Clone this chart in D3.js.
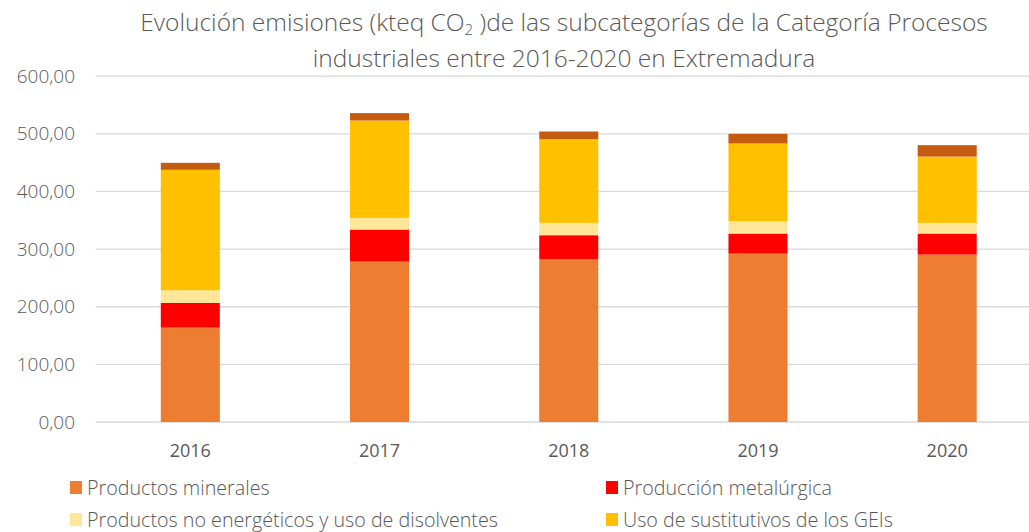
<!DOCTYPE html>
<html>
<head>
<meta charset="utf-8">
<script src="https://cdn.jsdelivr.net/npm/d3@7"></script>
<style>
  html, body { margin: 0; padding: 0; background: #fff; }
  svg { display: block; }
</style>
</head>
<body>
<svg id="chart" width="1029" height="532"></svg>
<script>
// Emisiones (kteq CO2) por subcategoría, 2016-2020
const years = ["2016", "2017", "2018", "2019", "2020"];
const seriesNames = [
  "Productos minerales",
  "Producción metalúrgica",
  "Productos no energéticos y uso de disolventes",
  "Uso de sustitutivos de los GEIs",
  "Otros"
];
const productosMinerales   = [163.7, 278.3, 282.5, 292.2, 290.5];
const produccionMetalurgica = [42.9, 55.6, 41.6, 34.7, 36.4];
const productosNoEnergeticos = [22.0, 20.3, 21.4, 21.5, 18.6];
const usoSustitutivos      = [209.0, 168.9, 145.3, 134.8, 115.1];
const otros                = [12.1, 12.8, 13.2, 16.8, 19.7];
const yTicks = [0, 100, 200, 300, 400, 500, 600];
const colors = ["#ED7D31", "#FF0000", "#FFE699", "#FFC000", "#C55A11"];

const rows = years.map((yr, i) => ({
  year: yr,
  s0: productosMinerales[i],
  s1: produccionMetalurgica[i],
  s2: productosNoEnergeticos[i],
  s3: usoSustitutivos[i],
  s4: otros[i]
}));
const keys = ["s0", "s1", "s2", "s3", "s4"];
const stacked = d3.stack().keys(keys)(rows);

const svg = d3.select("#chart");
const plotLeft = 95.7, plotRight = 1041.8, plotTop = 76.2, plotBottom = 422;

const x = d3.scaleBand().domain(years).range([plotLeft, plotRight]).paddingInner(0.688).paddingOuter(0.344);
const y = d3.scaleLinear().domain([0, 600]).range([plotBottom, plotTop]);

// horizontal gridlines
svg.append("g")
  .selectAll("line")
  .data(yTicks)
  .join("line")
  .attr("x1", plotLeft).attr("x2", plotRight)
  .attr("y1", d => y(d)).attr("y2", d => y(d))
  .attr("stroke", "#d9d9d9").attr("stroke-width", 1.3);

// y tick labels
const fmt = d => d3.format(".2f")(d).replace(".", ",");
svg.append("g")
  .selectAll("text")
  .data(yTicks)
  .join("text")
  .attr("x", 75).attr("y", d => y(d))
  .attr("dy", "0.35em")
  .attr("text-anchor", "end")
  .attr("font-family", "'Open Sans', sans-serif")
  .attr("font-weight", 300)
  .attr("font-size", 19)
  .attr("fill", "#595959")
  .text(fmt);

// stacked bars
svg.append("g")
  .selectAll("g")
  .data(stacked)
  .join("g")
  .attr("fill", (d, i) => colors[i])
  .selectAll("rect")
  .data(d => d)
  .join("rect")
  .attr("x", d => x(d.data.year))
  .attr("width", x.bandwidth())
  .attr("y", d => y(d[1]))
  .attr("height", d => y(d[0]) - y(d[1]));

// x labels
svg.append("g")
  .selectAll("text")
  .data(years)
  .join("text")
  .attr("x", d => x(d) + x.bandwidth() / 2)
  .attr("y", 457)
  .attr("text-anchor", "middle")
  .attr("font-family", "'Open Sans', sans-serif")
  .attr("font-weight", 500)
  .attr("font-size", 18)
  .attr("fill", "#595959")
  .text(d => d);

// title (two lines, subscript in CO2)
const title = svg.append("text")
  .attr("x", 564).attr("y", 31)
  .attr("text-anchor", "middle")
  .attr("font-family", "'Open Sans', sans-serif")
  .attr("font-weight", 300)
  .attr("font-size", 24.5)
  .attr("fill", "#595959");
title.append("tspan").text("Evolución emisiones (kteq CO");
title.append("tspan").attr("font-size", 15).attr("dy", 4).text("2");
title.append("tspan").attr("dy", -4).text(" )de las subcategorías de la Categoría Procesos");
svg.append("text")
  .attr("x", 564).attr("y", 67)
  .attr("text-anchor", "middle")
  .attr("font-family", "'Open Sans', sans-serif")
  .attr("font-weight", 300)
  .attr("font-size", 24.5)
  .attr("fill", "#595959")
  .text("industriales entre 2016-2020 en Extremadura");

// legend
const legendItems = [
  { name: seriesNames[0], color: colors[0], lx: 70, ly: 488 },
  { name: seriesNames[1], color: colors[1], lx: 606, ly: 488 },
  { name: seriesNames[2], color: colors[2], lx: 70, ly: 520 },
  { name: seriesNames[3], color: colors[3], lx: 606, ly: 520 }
];
const lg = svg.append("g")
  .selectAll("g")
  .data(legendItems)
  .join("g")
  .attr("transform", d => `translate(${d.lx},${d.ly})`);
lg.append("rect")
  .attr("x", 0).attr("y", -7).attr("width", 12).attr("height", 13)
  .attr("fill", d => d.color);
lg.append("text")
  .attr("x", 17).attr("y", 0).attr("dy", "0.35em")
  .attr("font-family", "'Open Sans', sans-serif")
  .attr("font-weight", 300)
  .attr("font-size", 19.7)
  .attr("fill", "#595959")
  .text(d => d.name);
</script>
</body>
</html>
